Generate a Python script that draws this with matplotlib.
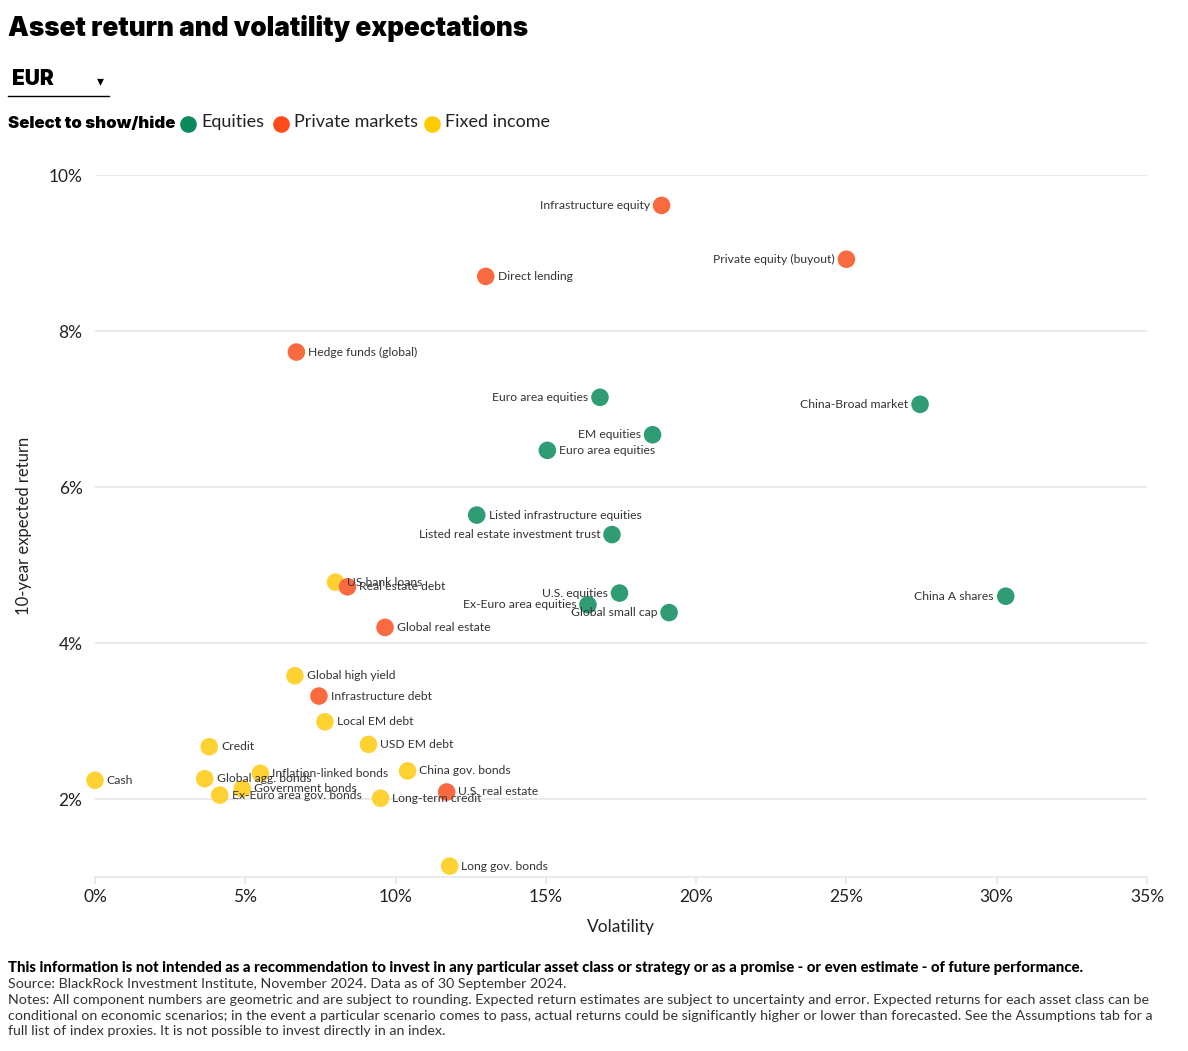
import matplotlib
matplotlib.use("Agg")
import matplotlib.pyplot as plt
from matplotlib.lines import Line2D

plt.rcParams['font.family'] = ['Lato', 'DejaVu Sans']

# ---------------- data ----------------
equity_names = ["Euro area equities", "China-Broad market", "EM equities", "Euro area equities",
                "Listed infrastructure equities", "Listed real estate investment trust",
                "U.S. equities", "Ex-Euro area equities", "Global small cap", "China A shares"]
equity_vol = [16.8, 27.45, 18.55, 15.05, 12.7, 17.2, 17.45, 16.4, 19.1, 30.3]
equity_ret = [7.15, 7.06, 6.67, 6.47, 5.64, 5.39, 4.64, 4.49, 4.39, 4.60]
equity_side = ["l", "l", "l", "r", "r", "l", "l", "l", "l", "l"]

private_names = ["Infrastructure equity", "Private equity (buyout)", "Direct lending",
                 "Hedge funds (global)", "Real estate debt", "Global real estate",
                 "Infrastructure debt", "U.S. real estate"]
private_vol = [18.85, 25.0, 13.0, 6.7, 8.4, 9.65, 7.45, 11.7]
private_ret = [9.61, 8.92, 8.70, 7.73, 4.72, 4.20, 3.32, 2.09]
private_side = ["l", "l", "r", "r", "r", "r", "r", "r"]

fixed_names = ["US bank loans", "Global high yield", "Local EM debt", "USD EM debt", "Credit",
               "Cash", "Global agg. bonds", "Inflation-linked bonds", "Government bonds",
               "Ex-Euro area gov. bonds", "China gov. bonds", "Long-term credit", "Long gov. bonds"]
fixed_vol = [8.0, 6.65, 7.65, 9.1, 3.8, 0.0, 3.65, 5.5, 4.9, 4.15, 10.4, 9.5, 11.8]
fixed_ret = [4.78, 3.58, 2.99, 2.70, 2.67, 2.24, 2.26, 2.33, 2.13, 2.05, 2.36, 2.01, 1.14]
fixed_side = ["r"] * 13

x_ticks = [0, 5, 10, 15, 20, 25, 30, 35]
y_ticks = [2, 4, 6, 8, 10]

series = [
    ("Fixed income", fixed_names, fixed_vol, fixed_ret, fixed_side, "#fdd232", "#ffcc00"),
    ("Private markets", private_names, private_vol, private_ret, private_side, "#fa6a40", "#ff4c1a"),
    ("Equities", equity_names, equity_vol, equity_ret, equity_side, "#2f9c74", "#0b8a5a"),
]

# ---------------- figure ----------------
W, H = 1188, 1051
fig = plt.figure(figsize=(W / 100, H / 100), dpi=100)
fig.patch.set_facecolor("white")

ax = fig.add_axes([95 / W, 1 - 877 / H, (1147 - 95) / W, (877 - 175) / H])
ax.set_xlim(0, 35)
ax.set_ylim(1, 10)

for name, names, xs, ys, sides, col, _ in series:
    ax.scatter(xs, ys, s=160, color=col, edgecolor="none", zorder=3, clip_on=False)
    for n, x, y, sd in zip(names, xs, ys, sides):
        if sd == "r":
            ax.annotate(n, (x, y), xytext=(8.5, 0), textcoords="offset points",
                        ha="left", va="center", fontsize=8.7, color="#333333", zorder=4)
        else:
            ax.annotate(n, (x, y), xytext=(-8.5, 0), textcoords="offset points",
                        ha="right", va="center", fontsize=8.7, color="#333333", zorder=4)

ax.set_xticks(x_ticks)
ax.set_xticklabels([f"{t}%" for t in x_ticks])
ax.set_yticks(y_ticks)
ax.set_yticklabels([f"{t}%" for t in y_ticks])
ax.grid(axis="y", color="#e6e6e6", linewidth=1.2, zorder=0)
for s in ["top", "right", "left"]:
    ax.spines[s].set_visible(False)
ax.spines["bottom"].set_color("#e6e6e6")
ax.spines["bottom"].set_linewidth(1.2)
ax.tick_params(axis="x", colors="#e6e6e6", length=5, width=1.2, labelcolor="#222222",
               labelsize=12.5, pad=4)
ax.tick_params(axis="y", length=0, labelcolor="#222222", labelsize=12.5, pad=9)
ax.set_xlabel("Volatility", fontsize=12.5, color="#222222", labelpad=10)
ax.set_ylabel("10-year expected return", fontsize=12, color="#222222", labelpad=12)

# ---------------- header ----------------
fig.text(8 / W, 1 - 29 / H, "Asset return and volatility expectations", fontsize=18.9,
         fontweight="black", family=["Inter", "DejaVu Sans"], va="center", ha="left", color="black")
fig.text(12 / W, 1 - 79 / H, "EUR", fontsize=15, fontweight="black", va="center", ha="left",
         family=["Inter", "DejaVu Sans"])
fig.text(100 / W, 1 - 81 / H, "\u25BE", fontsize=10, va="center", ha="center",
         family=["DejaVu Sans"])
fig.add_artist(Line2D([8 / W, 109 / W], [1 - 96 / H, 1 - 96 / H], color="black", lw=1,
                      transform=fig.transFigure))

fig.text(8 / W, 1 - 123 / H, "Select to show/hide", fontsize=12.1, fontweight="black",
         va="center", ha="left", family=["Inter", "DejaVu Sans"])
legend_items = [("Equities", "#0b8a5a", 188), ("Private markets", "#ff4c1a", 281),
                ("Fixed income", "#ffcc00", 432)]
for lab, col, px in legend_items:
    fig.add_artist(Line2D([px / W], [1 - 124 / H], marker="o", markersize=12, color=col,
                          markeredgewidth=0, linestyle="none", transform=fig.transFigure))
    fig.text((px + 13) / W, 1 - 122 / H, lab, fontsize=13, va="center", ha="left",
             color="#222222")

# ---------------- footer ----------------
fig.text(8 / W, 1 - 968 / H,
         "This information is not intended as a recommendation to invest in any particular asset class or strategy or as a promise - or even estimate - of future performance.",
         fontsize=10.7, fontweight="black", va="center", ha="left", color="black")
foot = [
    "Source: BlackRock Investment Institute, November 2024. Data as of 30 September 2024.",
    "Notes: All component numbers are geometric and are subject to rounding. Expected return estimates are subject to uncertainty and error. Expected returns for each asset class can be",
    "conditional on economic scenarios; in the event a particular scenario comes to pass, actual returns could be significantly higher or lower than forecasted. See the Assumptions tab for a",
    "full list of index proxies. It is not possible to invest directly in an index.",
]
for i, line in enumerate(foot):
    fig.text(8 / W, 1 - (984 + 15.8 * i) / H, line, fontsize=10.3, va="center", ha="left",
             color="#333333")

fig.savefig("out.png", dpi=100, facecolor="white")
